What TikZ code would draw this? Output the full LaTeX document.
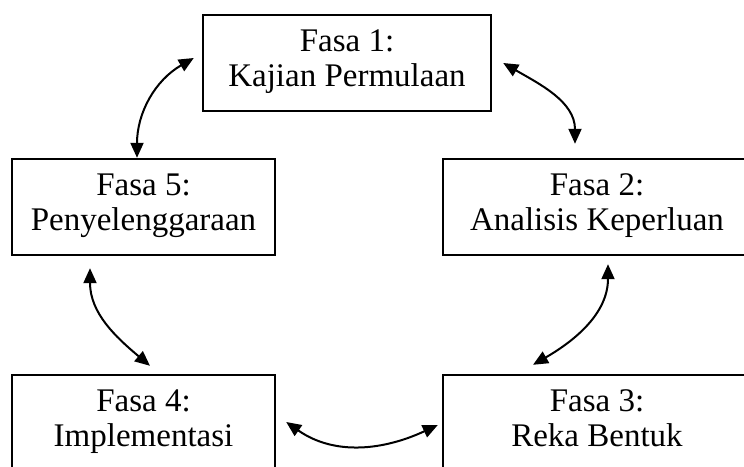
\documentclass[tikz,border=0pt]{standalone}
\usepackage{fontspec}
\setmainfont{Liberation Serif}
\usetikzlibrary{arrows.meta}
\tikzset{
 fasa/.style={draw,line width=2.4pt,inner sep=0pt,minimum height=96pt,align=center,font=\fontsize{33}{35}\selectfont,execute at end node=\strut},
 panah/.style={<->,>={Triangle[length=15pt,width=13pt]},line width=2pt},
}
\begin{document}
\begin{tikzpicture}[x=1pt,y=1pt]
 \fill[white] (0,0) rectangle (744,466); %latar
 \clip (0,0) rectangle (744,466);
 \node[fasa,minimum width=288pt] (f1) at (347,403) {Fasa 1:\\Kajian Permulaan};
 \node[fasa,minimum width=308pt] (f2) at (597,259) {Fasa 2:\\Analisis Keperluan};
 \node[fasa,minimum width=308pt] (f3) at (597,43) {Fasa 3:\\Reka Bentuk};
 \node[fasa,minimum width=263pt] (f4) at (143.5,43) {Fasa 4:\\Implementasi};
 \node[fasa,minimum width=263pt] (f5) at (143.5,259) {Fasa 5:\\Penyelenggaraan};
 % anak panah
 \draw[panah] ([xshift=-6.5pt]f5.north) to[out=90,in=210] ([xshift=-8pt,yshift=5pt]f1.west); %5-1
 \draw[panah] ([xshift=11pt]f1.east) to[out=-30,in=90] ([xshift=-22pt,yshift=14pt]f2.north); %1-2
 \draw[panah] ([xshift=11pt,yshift=-8pt]f2.south) to[out=-90,in=30] ([xshift=-64pt,yshift=9pt]f3.north); %2-3
 \draw[panah] ([xshift=10pt,yshift=1pt]f4.east) to[out=-35,in=205] ([xshift=-4pt,yshift=-2pt]f3.west); %4-3
 \draw[panah] ([xshift=-53.5pt,yshift=-12pt]f5.south) to[out=-90,in=140] ([xshift=6.5pt,yshift=8pt]f4.north); %5-4
\end{tikzpicture}
\end{document}
